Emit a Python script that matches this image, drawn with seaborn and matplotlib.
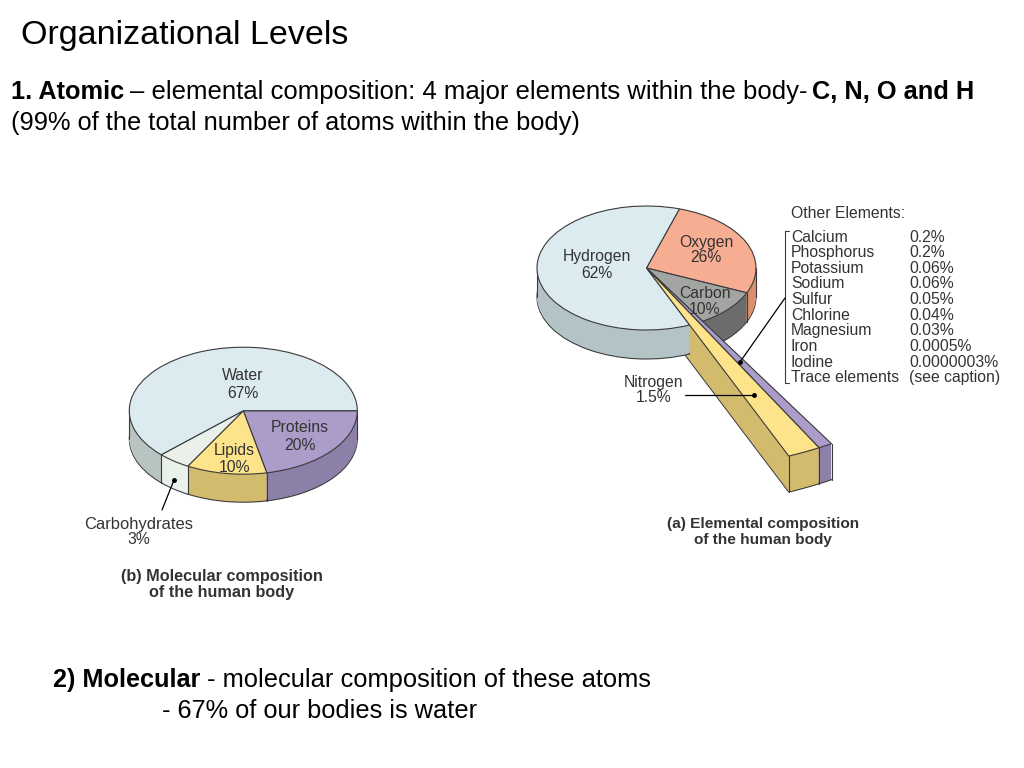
import numpy as np
import matplotlib
matplotlib.use("Agg")
import matplotlib.pyplot as plt
import seaborn as sns

# --- data ---
elements = ["Oxygen", "Carbon", "Other", "Nitrogen", "Hydrogen"]
element_labels = [26, 10, None, 1.5, 62]
other_names = ["Calcium", "Phosphorus", "Potassium", "Sodium", "Sulfur", "Chlorine",
               "Magnesium", "Iron", "Iodine", "Trace elements"]
other_labels = ["0.2%", "0.2%", "0.06%", "0.06%", "0.05%", "0.04%", "0.03%",
                "0.0005%", "0.0000003%", "(see caption)"]
other_values = [0.2, 0.2, 0.06, 0.06, 0.05, 0.04, 0.03, 0.0005, 0.0000003]
# oxygen is drawn a touch wider than its printed 26%
element_drawn = [27, 10, sum(other_values), 1.5, 62]

molecules = ["Water", "Carbohydrates", "Lipids", "Proteins"]
molecule_labels = [67, 3, 10, 20]
# the artwork's slices are not to scale with its printed percentages,
# so these are the slice sizes as measured on the drawing
molecule_drawn = [62.2, 4.7, 11.4, 21.7]

TOP = {"Hydrogen": "#dcebf0", "Oxygen": "#f7ad92", "Carbon": "#a3a5a3", "Nitrogen": "#fde48b",
       "Other": "#ab9cc9", "Water": "#dcebf0", "Carbohydrates": "#e9f1ea", "Lipids": "#fde48b",
       "Proteins": "#ab9cc9"}
WALL = {"Hydrogen": "#b4c4c6", "Oxygen": "#d9906f", "Carbon": "#6b6d6c", "Nitrogen": "#d2bb6d",
        "Other": "#8d80a8", "Water": "#b7c4c2", "Carbohydrates": "#e9f1ea", "Lipids": "#d2bb6d",
        "Proteins": "#8d80a8"}
EDGE = "#3a3a3a"
TXT = "#333333"

sns.set_theme(style="white")
plt.rcParams["font.family"] = ["Liberation Sans", "DejaVu Sans"]

W, H = 1024, 768
fig = plt.figure(figsize=(W / 100, H / 100), dpi=100, facecolor="white")


def pie_layer(ax, names, shares, start, palette, keep, radius=1.0, dy=0.0, edge="none"):
    wedges, _ = ax.pie(shares, startangle=start, counterclock=False, radius=radius,
                       colors=[palette[n] for n in names], center=(0, dy),
                       wedgeprops=dict(edgecolor=edge, linewidth=0.8))
    for w, n in zip(wedges, names):
        w.set_visible(n in keep)


def wall(ax, names, shares, start, keep, depth, b, radius=1.0):
    # extrude by stacking the pie downwards, bottom layer carries the outline
    for px in range(depth, 0, -1):
        pie_layer(ax, names, shares, start, WALL, keep, radius, -px / b,
                  EDGE if px == depth else "none")


def wall_lines(ax, angles, depth, b, radius=1.0):
    for ang in angles:
        x = radius * np.cos(np.radians(ang))
        y = radius * np.sin(np.radians(ang))
        ax.plot([x, x], [y, y - depth / b], color=EDGE, lw=0.8, zorder=1)


def boundaries(shares, start):
    return start - 360 * np.cumsum(shares) / np.sum(shares)


def pie_axes(cx, cy, a, b):
    ax = fig.add_axes([0, 0, 1, 1])
    ax.patch.set_alpha(0)
    return ax, ((0 - cx) / a, (W - cx) / a), ((cy - H) / b, cy / b)


def finish(ax, xlim, ylim):
    ax.set_aspect("auto")
    ax.set_xlim(xlim)
    ax.set_ylim(ylim)
    ax.axis("off")


# --- (a) elemental composition ---
A_B = 62
A_START = 72.5
A_LONG = 3.3
ax_a, xl, yl = pie_axes(646.5, 268, 109.5, A_B)
rest = ["Oxygen", "Carbon", "Other", "Nitrogen"]
sliver = ["Other", "Nitrogen"]
bounds_a = boundaries(element_drawn, A_START)
wall(ax_a, elements, element_drawn, A_START, rest, 29, A_B)
wall_lines(ax_a, [bounds_a[0], bounds_a[1], 0], 29, A_B)
wall(ax_a, elements, element_drawn, A_START, sliver, 36, A_B, radius=A_LONG)
wall_lines(ax_a, bounds_a[1:4], 36, A_B, radius=A_LONG)
wall(ax_a, elements, element_drawn, A_START, ["Hydrogen"], 29, A_B)
wall_lines(ax_a, [180], 29, A_B)
pie_layer(ax_a, elements, element_drawn, A_START, TOP, ["Oxygen", "Carbon", "Hydrogen"], edge=EDGE)
pie_layer(ax_a, elements, element_drawn, A_START, TOP, sliver, radius=A_LONG, edge=EDGE)
finish(ax_a, xl, yl)

# --- (b) molecular composition ---
B_B = 63.5
ax_b, xl, yl = pie_axes(243.3, 410.7, 114, B_B)
# water starts at the 3 o'clock line and runs anticlockwise, so draw reversed clockwise
names_b = molecules[::-1]
drawn_b = molecule_drawn[::-1]
wall(ax_b, names_b, drawn_b, 0, names_b, 28, B_B)
wall_lines(ax_b, list(boundaries(drawn_b, 0)[:3]) + [0, 180], 28, B_B)
pie_layer(ax_b, names_b, drawn_b, 0, TOP, names_b, edge=EDGE)
finish(ax_b, xl, yl)

# --- text and pointers, in slide pixels ---
ax = fig.add_axes([0, 0, 1, 1])
ax.set_xlim(0, W)
ax.set_ylim(H, 0)
ax.axis("off")
ax.patch.set_alpha(0)


def t(x, y, s, size=18.4, weight="normal", color="black", ha="left"):
    ax.text(x, y, s, fontsize=size, fontweight=weight, color=color, ha=ha, va="center")


t(21, 35.5, "Organizational Levels", size=24.5)
t(11, 92, "1. Atomic", size=18.2, weight="bold")
t(130, 92, "– elemental composition: 4 major elements within the body-", size=18.5)
t(812, 92, "C, N, O and H", size=18.3, weight="bold")
t(11, 123, "(99% of the total number of atoms within the body)", size=18.3)
t(53, 680, "2) Molecular", size=18.2, weight="bold")
t(207, 680, "- molecular composition of these atoms")
t(162, 711, "- 67% of our bodies is water", size=18.3)

D = 11.3
t(597, 257, "Hydrogen", D, color=TXT, ha="center")
t(597, 273, f"{element_labels[4]}%", D, color=TXT, ha="center")
t(706, 242, "Oxygen", D, color=TXT, ha="center")
t(706, 258, f"{element_labels[0]}%", D, color=TXT, ha="center")
t(705, 293, "Carbon", D, color=TXT, ha="center")
t(705, 309, f"{element_labels[1]}%", D, color=TXT, ha="center")
t(654, 382, "Nitrogen", D, color=TXT, ha="center")
t(654, 398, f"{element_labels[3]}%", D, color=TXT, ha="center")

t(791, 213, "Other Elements:", D, color=TXT)
for i, (name, lab) in enumerate(zip(other_names, other_labels)):
    y = 237 + i * 15.65
    t(791, y, name, D, color=TXT)
    t(909, y, lab, D, color=TXT)

ax.plot([789, 785, 785, 789], [231, 231, 383, 383], color=EDGE, lw=0.8)
ax.plot([785, 740], [298, 362], color="black", lw=0.9)
ax.plot([740], [362], "o", ms=2.5, color="black")
ax.plot([685, 754], [395, 395], color="black", lw=0.9)
ax.plot([754], [395], "o", ms=2.5, color="black")
ax.plot([162, 174], [510, 480], color="black", lw=0.9)
ax.plot([174], [480], "o", ms=2.5, color="black")

t(243, 375, molecules[0], D, color=TXT, ha="center")
t(243, 394, f"{molecule_labels[0]}%", D, color=TXT, ha="center")
t(300, 428, molecules[3], D, color=TXT, ha="center")
t(300, 445, f"{molecule_labels[3]}%", D, color=TXT, ha="center")
t(234, 451, molecules[2], D, color=TXT, ha="center")
t(234, 467, f"{molecule_labels[2]}%", D, color=TXT, ha="center")
t(139, 524, molecules[1], 11.9, color=TXT, ha="center")
t(139, 540, f"{molecule_labels[1]}%", D, color=TXT, ha="center")

t(763, 524, "(a) Elemental composition", 11.1, "bold", TXT, "center")
t(763, 540, "of the human body", 11.1, "bold", TXT, "center")
t(222, 577, "(b) Molecular composition", 11.7, "bold", TXT, "center")
t(222, 593, "of the human body", 11.7, "bold", TXT, "center")

fig.savefig("out.png", dpi=100)
